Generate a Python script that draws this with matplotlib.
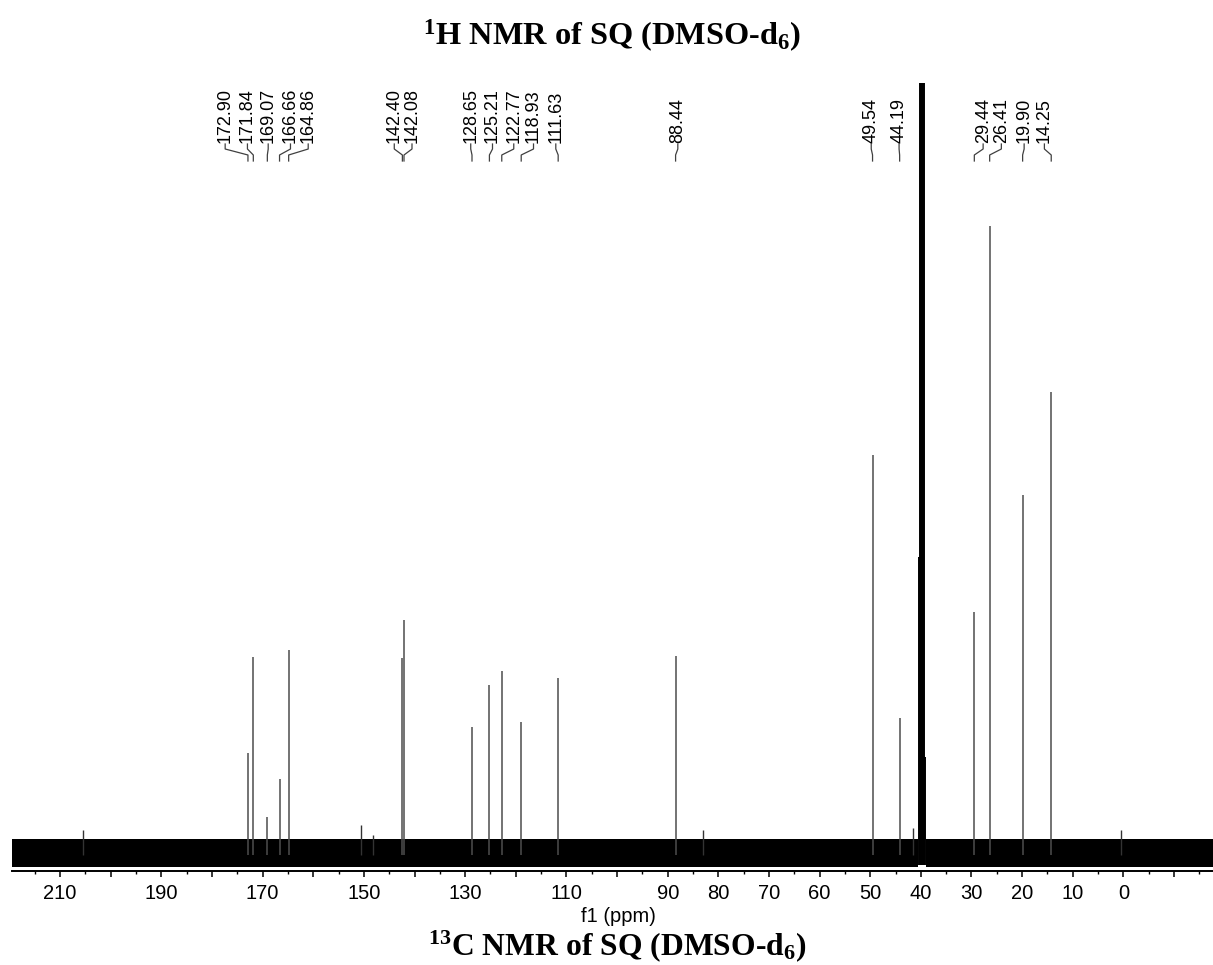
import matplotlib
matplotlib.use("Agg")
import matplotlib.pyplot as plt
import matplotlib.transforms as mtransforms
from matplotlib.ticker import FixedLocator, FuncFormatter, MultipleLocator

plt.rcParams["font.family"] = ["Liberation Sans", "DejaVu Sans"]
plt.rcParams["mathtext.fontset"] = "custom"
plt.rcParams["mathtext.rm"] = "Liberation Serif:bold"
plt.rcParams["mathtext.it"] = "Liberation Serif:bold"
plt.rcParams["mathtext.bf"] = "Liberation Serif:bold"
plt.rcParams["mathtext.default"] = "rm"
plt.rcParams["hatch.linewidth"] = 1.0

# ---- spectrum data -------------------------------------------------------
peak_ppm = [172.90, 171.84, 169.07, 166.66, 164.86,
            142.40, 142.08,
            128.65, 125.21, 122.77, 118.93, 111.63,
            88.44,
            49.54, 44.19,
            29.44, 26.41, 19.90, 14.25]
peak_height = [102, 198, 38, 76, 205,
               197, 235,
               128, 170, 184, 133, 177,
               199,
               400, 137,
               243, 629, 360, 463]

# DMSO-d6 solvent multiplet (runs off scale)
solvent_ppm = [40.36, 40.15, 39.94, 39.73, 39.52, 39.31, 39.10]
solvent_height = [298, 1500, 3000, 3500, 3000, 1500, 98]

# small artefact spikes standing out of the baseline noise
spike_ppm = [205.4, 150.6, 148.2, 83.0, 41.6, 0.5]
spike_height = [25, 30, 20, 25, 27, 25]

# where the peak-pick labels sit along the axis (ppm)
label_ppm = [177.4, 173.0, 168.9, 164.5, 161.0,
             144.0, 140.5,
             128.9, 124.6, 120.4, 116.5, 112.1,
             88.0,
             49.8, 44.3,
             27.7, 24.1, 19.6, 15.6]

major_ticks = list(range(-10, 220, 10))
labelled_ticks = [210, 190, 170, 150, 130, 110, 90, 80, 70, 60, 50, 40, 30, 20, 10, 0]

# ---- figure --------------------------------------------------------------
W, H = 1213, 965
fig = plt.figure(figsize=(W / 100, H / 100), dpi=100)
ax_left, ax_right, ax_bottom, ax_top = 12, 1213, 871, 83
ax = fig.add_axes([ax_left / W, 1 - ax_bottom / H,
                   (ax_right - ax_left) / W, (ax_bottom - ax_top) / H])
ax.set_xlim(219.5, -17.7)
ax.set_ylim(-16, 772)

# baseline noise band, interrupted under the solvent signal:
# a solid core with a hatched, fuzzy upper fringe
for x0, x1 in ((219.5, 40.6), (39.0, -17.7)):
    ax.fill_between([x0, x1], -12, 6, color="black", lw=0)
    ax.fill_between([x0, x1], 6, 16, facecolor="0.5", edgecolor="black",
                    hatch="|" * 18, lw=0)
ax.vlines(spike_ppm, 0, spike_height, color="0.2", lw=1.0)

# resonances
ax.vlines(peak_ppm, 0, peak_height, color="0.3", lw=1.1)
ax.vlines(solvent_ppm, -10, solvent_height, color="black", lw=1.4)

# axis styling: only the bottom scale
for side in ("left", "right", "top"):
    ax.spines[side].set_visible(False)
ax.spines["bottom"].set_linewidth(1.4)
ax.set_yticks([])
ax.xaxis.set_major_locator(FixedLocator(major_ticks))
ax.xaxis.set_minor_locator(MultipleLocator(5))
ax.xaxis.set_major_formatter(
    FuncFormatter(lambda v, p: f"{int(round(v))}" if int(round(v)) in labelled_ticks else ""))
ax.tick_params(axis="x", which="major", direction="out", length=4.3, width=1.1,
               labelsize=14.5, pad=5)
ax.tick_params(axis="x", which="minor", direction="out", length=2.2, width=1.0)

fig.text(618 / W, 1 - 917 / H, "f1 (ppm)", ha="center", va="center", fontsize=14.5)

# peak-pick labels with bent connectors
trans = mtransforms.blended_transform_factory(ax.transData, fig.transFigure)


def fy(ypx):
    return 1 - ypx / H


for p, lp in zip(peak_ppm, label_ppm):
    ax.text(lp, fy(143), f"{p:.2f}", rotation=90, ha="center", va="bottom",
            fontsize=13, transform=trans, clip_on=False)
    ax.plot([lp, lp, p, p], [fy(144), fy(149), fy(155), fy(161)],
            color="0.25", lw=0.9, transform=trans, clip_on=False)

# headings
fig.text(612 / W, 1 - 45 / H, r"$^{1}$H NMR of SQ (DMSO-d$_{6}$)",
         ha="center", va="baseline", fontsize=23.3,
         family="Liberation Serif", weight="bold")
fig.text(617 / W, 1 - 955 / H, r"$^{13}$C NMR of SQ (DMSO-d$_{6}$)",
         ha="center", va="baseline", fontsize=22.8,
         family="Liberation Serif", weight="bold")

fig.savefig("out.png", dpi=100, facecolor="white")
